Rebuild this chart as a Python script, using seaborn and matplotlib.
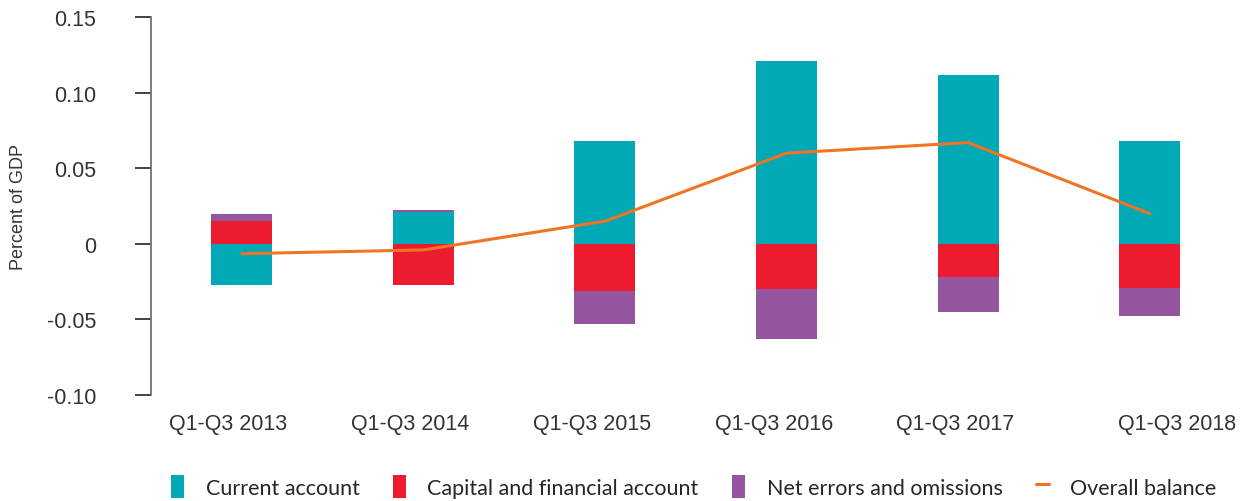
import numpy as np
import matplotlib.pyplot as plt
import seaborn as sns
from matplotlib.patches import Patch
from matplotlib.lines import Line2D

# Data (percent of GDP)
periods = ["Q1-Q3 2013", "Q1-Q3 2014", "Q1-Q3 2015", "Q1-Q3 2016", "Q1-Q3 2017", "Q1-Q3 2018"]
current_account = [-0.027, 0.021, 0.068, 0.121, 0.112, 0.068]
capital_financial = [0.015, -0.027, -0.031, -0.030, -0.022, -0.029]
net_errors = [0.005, 0.0015, -0.022, -0.033, -0.023, -0.019]
overall_balance = [-0.0065, -0.004, 0.015, 0.060, 0.067, 0.020]

yticks = [0.15, 0.10, 0.05, 0, -0.05, -0.10]
ytick_labels = ["0.15", "0.10", "0.05", "0", "-0.05", "-0.10"]
label_shift = [-0.075, -0.075, -0.07, -0.07, -0.07, 0.15]

series = [
    ("Current account", current_account, "#00A9B5"),
    ("Capital and financial account", capital_financial, "#ED1B2F"),
    ("Net errors and omissions", net_errors, "#96559F"),
]
line_color = "#F07424"

sns.set_theme(style="white")
plt.rcParams["font.family"] = ["Liberation Sans", "DejaVu Sans"]

fig = plt.figure(figsize=(12.48, 5.02), dpi=100)
ax = fig.add_axes([0.121, 0.211, 0.873, 0.753])

x = np.arange(len(periods))
pos_base = np.zeros(len(periods))
neg_base = np.zeros(len(periods))
for name, vals, color in series:
    vals = np.array(vals)
    bottom = np.where(vals >= 0, pos_base, neg_base)
    ax.bar(x, vals, bottom=bottom, width=0.336, color=color, linewidth=0, label=name)
    pos_base = pos_base + np.where(vals >= 0, vals, 0)
    neg_base = neg_base + np.where(vals < 0, vals, 0)

sns.lineplot(x=x, y=overall_balance, color=line_color, linewidth=2.2, ax=ax, legend=False)

ax.set_xlim(-0.5, 5.5)
ax.set_ylim(-0.10, 0.15)
ax.set_yticks(yticks)
ax.set_yticklabels(ytick_labels, fontsize=15.5, color="#333333")
ax.set_xticks(x + np.array(label_shift))
ax.set_xticklabels(periods, fontsize=15.5, color="#333333")
ax.tick_params(axis="y", direction="out", length=11.5, width=1.2, color="#222222", pad=28, left=True)
ax.tick_params(axis="x", length=0, pad=13)

for side in ["top", "right", "bottom"]:
    ax.spines[side].set_visible(False)
ax.spines["left"].set_color("#666666")
ax.spines["left"].set_linewidth(1.2)

ax.set_ylabel("Percent of GDP", fontsize=13, color="#333333", labelpad=14)

handles = [Patch(facecolor=c, edgecolor="none") for _, _, c in series]
handles.append(Line2D([0], [0], color=line_color, linewidth=2.2))
labels = [n for n, _, _ in series] + ["Overall balance"]
fig.legend(handles, labels, loc="lower center", bbox_to_anchor=(0.556, -0.033), ncol=4,
           frameon=False, handlelength=0.6, handleheight=1.3,
           columnspacing=1.55, handletextpad=1.0, prop={"family": "Lato", "size": 15.5})

plt.savefig("out.png", dpi=100)
